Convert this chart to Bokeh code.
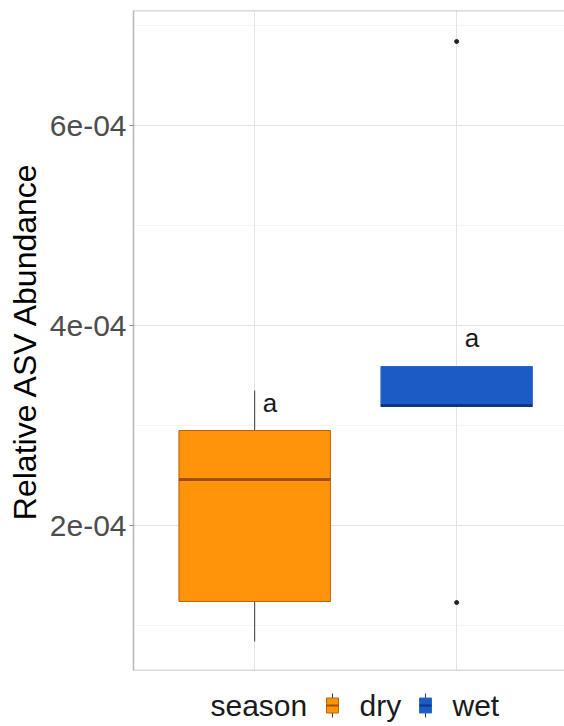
from bokeh.plotting import figure
from bokeh.models import Range1d, FixedTicker, Span, ColumnDataSource
from bokeh.layouts import column
from bokeh.core.properties import value
from bokeh.embed import file_html
from bokeh.resources import INLINE
import numpy as np

# Box-plot summary of relative ASV abundance by season
seasons = ["dry", "wet"]
whisker_low = [0.84e-4, 3.19e-4]
q1 = [1.24e-4, 3.19e-4]
median = [2.46e-4, 3.20e-4]
q3 = [2.95e-4, 3.59e-4]
whisker_high = [3.35e-4, 3.59e-4]
outlier_season = ["wet", "wet"]
outlier_value = [1.23e-4, 6.84e-4]
letters = ["a", "a"]
letter_y = [3.23e-4, 3.88e-4]

y_ticks = [2e-4, 4e-4, 6e-4]
y_tick_labels = ["2e-04", "4e-04", "6e-04"]
y_minor = [1e-4, 3e-4, 5e-4, 7e-4]

fills = ["#FF930A", "#1B5BC6"]
outlines = ["#B8650A", "#2C66CC"]
medians = ["#A24E04", "#0D3580"]

FONT = "Liberation Sans"
BORDER = "#B8B8B8"
GRID = "#E3E3E3"
LEFT = 133

pos = np.arange(1, len(seasons) + 1, dtype=float)
half = 0.75 / 2
out_x = [pos[seasons.index(s)] for s in outlier_season]

p = figure(width=564, height=672, output_backend="svg", toolbar_location=None,
           x_range=Range1d(0.4, 2.534), y_range=Range1d(0.55e-4, 7.15e-4),
           min_border_left=LEFT, min_border_right=0, min_border_top=10,
           min_border_bottom=2)
p.outline_line_color = None
p.background_fill_color = "white"
p.border_fill_color = "white"

# grid
p.xgrid.ticker = FixedTicker(ticks=list(pos))
p.xgrid.grid_line_color = GRID
p.xgrid.grid_line_width = 1
p.ygrid.ticker = FixedTicker(ticks=y_ticks, minor_ticks=y_minor)
p.ygrid.grid_line_color = GRID
p.ygrid.grid_line_width = 1
p.ygrid.minor_grid_line_color = "#EEEEEE"
p.ygrid.minor_grid_line_width = 0.6

# axes
p.xaxis.visible = False
ya = p.yaxis[0]
ya.ticker = FixedTicker(ticks=y_ticks, minor_ticks=[])
ya.major_label_overrides = dict(zip(y_ticks, y_tick_labels))
ya.axis_label = "Relative ASV Abundance"
ya.axis_label_text_font = FONT
ya.axis_label_text_font_size = "32px"
ya.axis_label_text_font_style = "normal"
ya.axis_label_text_color = "black"
ya.axis_label_standoff = 4
ya.major_label_text_font = FONT
ya.major_label_text_font_size = "30px"
ya.major_label_text_color = "#4D4D4D"
ya.major_label_standoff = 3
ya.major_tick_out = 4
ya.major_tick_in = 0
ya.minor_tick_out = 0
ya.major_tick_line_color = "#9A9A9A"
ya.axis_line_color = BORDER
ya.axis_line_width = 1.5

# panel border top / bottom
for loc in (p.y_range.start, p.y_range.end):
    p.add_layout(Span(location=loc, dimension="width", line_color=BORDER,
                      line_width=1.5))

src = ColumnDataSource(dict(x=pos, x0=pos - half, x1=pos + half,
                            wl=whisker_low, q1=q1, med=median, q3=q3,
                            wh=whisker_high, fill=fills, line=outlines,
                            medc=medians))

# whiskers
p.segment(x0="x", y0="q3", x1="x", y1="wh", source=src, line_color="#3A3A3A",
          line_width=1)
p.segment(x0="x", y0="wl", x1="x", y1="q1", source=src, line_color="#3A3A3A",
          line_width=1)
# boxes
p.vbar(x="x", width=0.75, bottom="q1", top="q3", source=src,
       fill_color="fill", line_color="line", line_width=1)
# medians
p.segment(x0="x0", y0="med", x1="x1", y1="med", source=src,
          line_color="medc", line_width=3)
# outliers
p.scatter(x=out_x, y=outlier_value, size=4, color="#222222")

# significance letters
p.text(x=pos + 0.04, y=letter_y, text=letters, text_font=value(FONT),
       text_font_size="26px", text_align="left", text_baseline="middle",
       text_color="#1A1A1A")

# legend strip; its frame is aligned with the panel, so x is in page pixels
leg = figure(width=564, height=54, output_backend="svg", toolbar_location=None,
             x_range=Range1d(LEFT, 564), y_range=Range1d(0, 54),
             min_border_left=LEFT, min_border_right=0, min_border_top=0,
             min_border_bottom=0, x_axis_type=None, y_axis_type=None)
leg.outline_line_color = None
leg.grid.visible = False

mid = 21
title_x = 210
key_x = [332, 425]
label_x = [359, 452]

leg.text(x=[title_x], y=[mid], text=["season"], text_font=value(FONT),
         text_font_size="30px", text_align="left", text_baseline="middle",
         text_color="#1A1A1A")
leg.segment(x0=key_x, y0=[mid - 12] * 2, x1=key_x, y1=[mid + 12] * 2,
            line_color="#3A3A3A", line_width=1)
leg.rect(x=key_x, y=[mid] * 2, width=12, height=15, fill_color=fills,
         line_color=outlines, line_width=1)
leg.segment(x0=[k - 6 for k in key_x], y0=[mid] * 2,
            x1=[k + 6 for k in key_x], y1=[mid] * 2,
            line_color=medians, line_width=2)
leg.text(x=label_x, y=[mid] * 2, text=seasons, text_font=value(FONT),
         text_font_size="30px", text_align="left", text_baseline="middle",
         text_color="#1A1A1A")

layout = column(p, leg, spacing=0)
open("out.html", "w").write(file_html(layout, INLINE))
